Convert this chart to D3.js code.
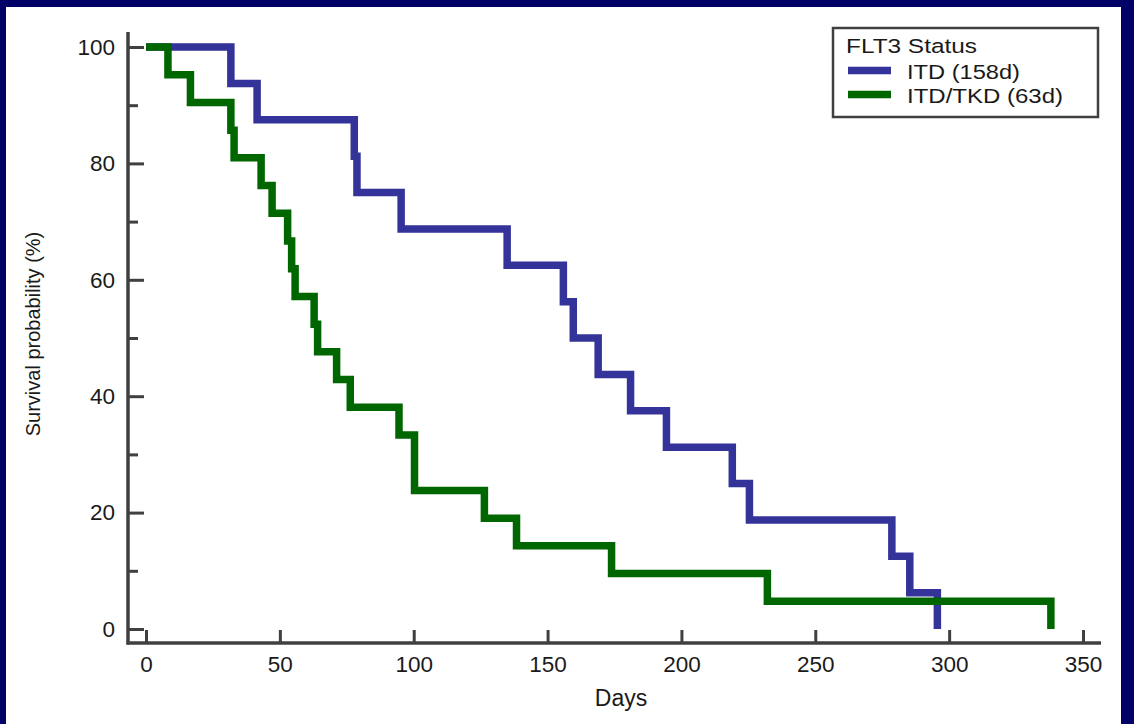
<!DOCTYPE html>
<html>
<head>
<meta charset="utf-8">
<script src="https://cdn.jsdelivr.net/npm/d3@7"></script>
<style>
  body { margin: 0; background: #000066; }
  svg { display: block; }
  text { font-family: "Liberation Sans", Arial, sans-serif; fill: #1a1a1a; }
</style>
</head>
<body>
<svg id="km-svg" width="1134" height="724"></svg>
<script>
// Kaplan-Meier step data (days, survival %)
const itdDays = [0, 31.7, 41.5, 77.8, 78.8, 95.3, 134.9, 155.9, 159.6, 168.9, 181, 194.4, 219, 225.4, 278.6, 285.3, 295.6];
const itdSurv = [100, 93.75, 87.5, 81.25, 75, 68.75, 62.5, 56.25, 50, 43.75, 37.5, 31.25, 25, 18.75, 12.5, 6.25, 0];

const tkdDays = [0, 8.2, 16.6, 31.7, 32.9, 43, 47.1, 52.9, 54.4, 55.7, 62.8, 64.1, 71.2, 76.3, 94.5, 100.3, 126.4, 138.4, 173.9, 232.1, 338];
const tkdSurv = [100, 95.24, 90.48, 85.71, 80.95, 76.19, 71.43, 66.67, 61.9, 57.14, 52.38, 47.62, 42.86, 38.1, 33.33, 23.81, 19.05, 14.29, 9.52, 4.76, 0];

const xTicks = [0, 50, 100, 150, 200, 250, 300, 350];
const yTicks = [0, 20, 40, 60, 80, 100];
const yMinorTicks = [10, 30, 50, 70, 90];
const legendTitle = "FLT3 Status";
const legendLabels = ["ITD (158d)", "ITD/TKD (63d)"];
const colors = ["#333399", "#006600"];

const width = 1134,
  height = 724;
const axisColor = "#404040";
const yAxisX = 128,
  xAxisY = 643;

const svg = d3.select("#km-svg");

// white panel inside the navy frame
svg
  .append("rect")
  .attr("x", 6)
  .attr("y", 7)
  .attr("width", 1115)
  .attr("height", height - 7)
  .attr("fill", "#fff");

const x = d3.scaleLinear().domain([0, 350]).range([146, 1083]);
const y = d3.scaleLinear().domain([0, 100]).range([629, 47]);

// y axis: major + minor ticks pointing inward
const yAxis = svg
  .append("g")
  .attr("transform", `translate(${yAxisX},0)`)
  .call(d3.axisLeft(y).tickValues(yTicks).tickSize(-16).tickPadding(13));
const yMinor = svg
  .append("g")
  .attr("transform", `translate(${yAxisX},0)`)
  .call(d3.axisLeft(y).tickValues(yMinorTicks).tickSize(-10).tickFormat(""));

const xAxis = svg
  .append("g")
  .attr("transform", `translate(0,${xAxisY})`)
  .call(d3.axisBottom(x).tickValues(xTicks).tickSize(-13).tickPadding(13));

[yAxis, yMinor, xAxis].forEach((g) => {
  g.select(".domain").remove();
  g.selectAll(".tick line").attr("stroke", axisColor).attr("stroke-width", 3);
  g.selectAll(".tick text")
    .style("font-size", "22.5px")
    .style("font-family", '"Liberation Sans", Arial, sans-serif')
    .attr("fill", "#1a1a1a");
});

// axis lines
svg
  .append("line")
  .attr("x1", yAxisX)
  .attr("x2", yAxisX)
  .attr("y1", 32)
  .attr("y2", xAxisY + 1.5)
  .attr("stroke", axisColor)
  .attr("stroke-width", 3.5);
svg
  .append("line")
  .attr("x1", yAxisX - 1.5)
  .attr("x2", 1101)
  .attr("y1", xAxisY)
  .attr("y2", xAxisY)
  .attr("stroke", axisColor)
  .attr("stroke-width", 3.5);

// axis titles
svg
  .append("text")
  .attr("transform", "translate(39.5,334) rotate(-90)")
  .attr("text-anchor", "middle")
  .style("font-size", "20px")
  .text("Survival probability (%)");
svg
  .append("text")
  .attr("x", 621)
  .attr("y", 706)
  .attr("text-anchor", "middle")
  .style("font-size", "23px")
  .text("Days");

// survival curves
const line = d3
  .line()
  .x((d) => x(d[0]))
  .y((d) => y(d[1]))
  .curve(d3.curveStepAfter);

const series = [
  d3.zip(itdDays, itdSurv),
  d3.zip(tkdDays, tkdSurv),
];
series.forEach((pts, i) => {
  svg
    .append("path")
    .datum(pts)
    .attr("d", line)
    .attr("fill", "none")
    .attr("stroke", colors[i])
    .attr("stroke-width", 7.5)
    .attr("stroke-linejoin", "miter")
    .attr("stroke-linecap", "butt");
});

// legend (text a little wide, like the original's rendering)
const legend = svg.append("g");
legend
  .append("rect")
  .attr("x", 833)
  .attr("y", 28)
  .attr("width", 265)
  .attr("height", 89)
  .attr("fill", "#fff")
  .attr("stroke", axisColor)
  .attr("stroke-width", 2.5);
legend
  .append("text")
  .attr("x", 846)
  .attr("y", 52.5)
  .attr("textLength", 131)
  .attr("lengthAdjust", "spacingAndGlyphs")
  .style("font-size", "20.5px")
  .text(legendTitle);
const labelWidths = [113, 156];
legendLabels.forEach((label, i) => {
  const cy = 70.5 + i * 24;
  legend
    .append("line")
    .attr("x1", 848)
    .attr("x2", 891)
    .attr("y1", cy)
    .attr("y2", cy)
    .attr("stroke", colors[i])
    .attr("stroke-width", 7.5);
  legend
    .append("text")
    .attr("x", 907)
    .attr("y", cy + 8)
    .attr("textLength", labelWidths[i])
    .attr("lengthAdjust", "spacingAndGlyphs")
    .style("font-size", "20.5px")
    .text(label);
});
</script>
</body>
</html>
